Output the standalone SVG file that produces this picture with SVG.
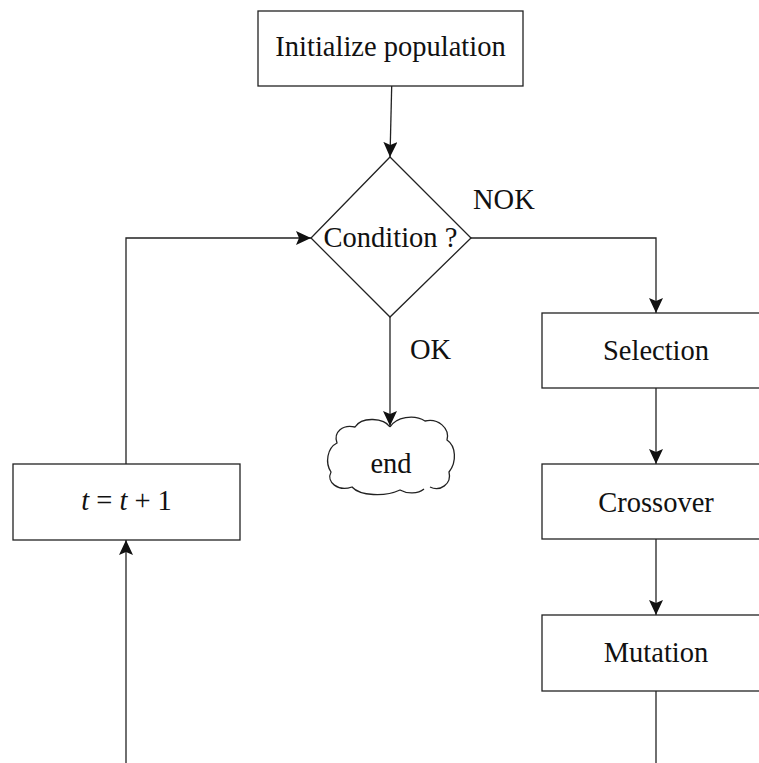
<svg xmlns="http://www.w3.org/2000/svg" width="759" height="763" viewBox="0 0 759 763">
<style>
.box{fill:#fff;stroke:#222;stroke-width:1.3}
.conn{fill:none;stroke:#222;stroke-width:1.3}
text{font-family:"Liberation Serif","DejaVu Serif",serif;font-size:28.5px;fill:#111}
.c{text-anchor:middle}
</style>
<defs>
<marker id="arr" markerUnits="userSpaceOnUse" markerWidth="16" markerHeight="14" viewBox="0 0 16 14" refX="15" refY="7" orient="auto">
<path d="M0,0 L15,7 L0,14 L3,7 Z" fill="#111"/>
</marker>
</defs>
<g id="connectors">
<line class="conn" x1="391.7" y1="86" x2="390" y2="157" marker-end="url(#arr)"/>
<path class="conn" d="M126,464 V238 H311" marker-end="url(#arr)"/>
<path class="conn" d="M126,763 V540" marker-end="url(#arr)"/>
<path class="conn" d="M471,238 H656 V313" marker-end="url(#arr)"/>
<path class="conn" d="M656,388 V464" marker-end="url(#arr)"/>
<path class="conn" d="M656,539 V615" marker-end="url(#arr)"/>
<path class="conn" d="M656,691 V763"/>
<path class="conn" d="M390,317 V426" marker-end="url(#arr)"/>
<text x="473" y="209">NOK</text>
<text x="410" y="359">OK</text>
</g>
<g id="init">
<rect class="box" x="258" y="11" width="265" height="75"/>
<text class="c" x="390.5" y="56">Initialize population</text>
</g>
<g id="condition">
<polygon class="box" points="390,157 471,238 390,317 311,238"/>
<text class="c" x="390.5" y="247">Condition ?</text>
</g>
<g id="end">
<path class="conn" fill="#fff" d="M390,427 C384,418 362,416 355,427 C343,424 333,432 337,443 C327,448 325,463 331,472 C326,482 338,492 352,487 C360,496 385,497 400,490 C407,494 418,494 424,489 M430,487 C440,492 452,484 449,472 C457,462 456,446 447,440 C450,428 438,418 425,421 C414,414 396,417 390,427"/>
<text class="c" x="391" y="473">end</text>
</g>
<g id="tplus1">
<rect class="box" x="13" y="464" width="227" height="76"/>
<text class="c" x="126.5" y="510"><tspan font-style="italic">t</tspan> = <tspan font-style="italic">t</tspan> + 1</text>
</g>
<g id="selection">
<rect class="box" x="542" y="313" width="228" height="75"/>
<text class="c" x="656" y="360">Selection</text>
</g>
<g id="crossover">
<rect class="box" x="542" y="464" width="228" height="75"/>
<text class="c" x="656" y="512">Crossover</text>
</g>
<g id="mutation">
<rect class="box" x="542" y="615" width="228" height="76"/>
<text class="c" x="656" y="662">Mutation</text>
</g>
</svg>
